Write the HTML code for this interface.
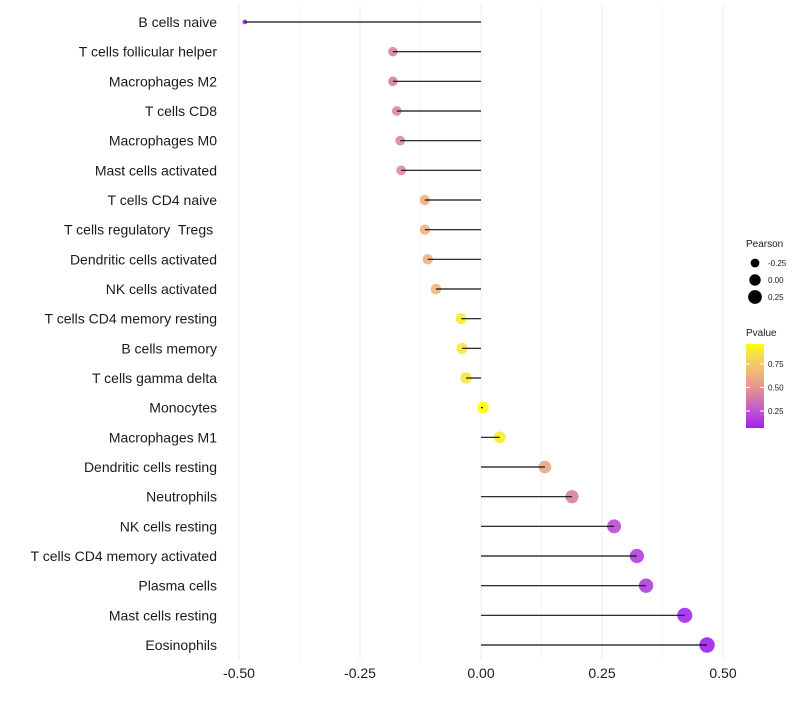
<!DOCTYPE html>
<html><head><meta charset="utf-8"><style>
body{margin:0;background:#fff;font-family:"Liberation Sans",sans-serif}
</style></head><body>
<svg id="c" width="800" height="700" xmlns="http://www.w3.org/2000/svg" font-family="Liberation Sans, sans-serif"></svg>
<script>
const categories=["B cells naive","T cells follicular helper","Macrophages M2","T cells CD8","Macrophages M0","Mast cells activated","T cells CD4 naive","T cells regulatory  Tregs ","Dendritic cells activated","NK cells activated","T cells CD4 memory resting","B cells memory","T cells gamma delta","Monocytes","Macrophages M1","Dendritic cells resting","Neutrophils","NK cells resting","T cells CD4 memory activated","Plasma cells","Mast cells resting","Eosinophils"];
const pearson=[-0.488,-0.182,-0.182,-0.174,-0.167,-0.165,-0.116,-0.116,-0.110,-0.093,-0.041,-0.039,-0.031,0.004,0.039,0.132,0.188,0.275,0.322,0.341,0.421,0.467];
const pvalue=[0.05,0.42,0.42,0.45,0.45,0.45,0.62,0.62,0.62,0.66,0.9,0.88,0.88,0.97,0.9,0.58,0.42,0.22,0.17,0.17,0.1,0.07];
const xTicks=[-0.5,-0.25,0,0.25,0.5];
const xTickLabels=["-0.50","-0.25","0.00","0.25","0.50"];
const legSizes=[-0.25,0,0.25];
const legSizeLabels=["-0.25","0.00","0.25"];
const legP=[0.75,0.5,0.25];
const legPLabels=["0.75","0.50","0.25"];

const svg=document.getElementById('c');const NS="http://www.w3.org/2000/svg";
function mk(t,a,p){const e=document.createElementNS(NS,t);for(const k in a)e.setAttribute(k,a[k]);(p||svg).appendChild(e);return e;}
const xS=v=>481+v*484;
const yS=i=>22+i*(623/21);
const rS=p=>Math.sqrt(Math.max(4,33+56*p));
const stops=[[0.07,[160,32,240]],[0.3,[200,98,200]],[0.45,[219,138,154]],[0.65,[242,181,122]],[0.85,[246,222,80]],[0.96,[255,255,0]]];
function col(p){if(p<=stops[0][0])return 'rgb('+stops[0][1]+')';for(let i=1;i<stops.length;i++){if(p<=stops[i][0]){const a=stops[i-1],b=stops[i],t=(p-a[0])/(b[0]-a[0]);return 'rgb('+a[1].map((c,j)=>Math.round(c+(b[1][j]-c)*t)).join(',')+')';}}return 'rgb(255,255,0)';}
for(let v=-0.5;v<=0.5001;v+=0.125){const g=mk('line',{x1:xS(v),x2:xS(v),y1:5,y2:660,stroke:'#eeeeee','stroke-width':Math.abs(v*4-Math.round(v*4))<1e-6?1:0.6});

}
xTicks.forEach((v,i)=>{const t=mk('text',{x:xS(v),y:678,'text-anchor':'middle','font-size':14,fill:'#1a1a1a'});t.textContent=xTickLabels[i];

});
categories.forEach((c,i)=>{const y=yS(i);
const t=mk('text',{x:217,y:y+5,'text-anchor':'end','font-size':14,fill:'#1a1a1a'});t.textContent=c;t.style.whiteSpace='pre';


const ci=mk('circle',{cx:xS(pearson[i]),cy:y,r:rS(pearson[i]),fill:col(pvalue[i]),'fill-opacity':0.9});


const l=mk('line',{x1:xS(0),x2:xS(pearson[i]),y1:y,y2:y,stroke:'#111','stroke-width':1.2});

});
let t=mk('text',{x:746,y:247,'font-size':10,fill:'#1a1a1a'});t.textContent='Pearson';


legSizes.forEach((v,i)=>{const y=263+i*17;const c=mk('circle',{cx:755,cy:y,r:rS(v),fill:'#000'});


const tt=mk('text',{x:768,y:y+3,'font-size':8,fill:'#1a1a1a'});tt.textContent=legSizeLabels[i];

});
t=mk('text',{x:746,y:336,'font-size':10,fill:'#1a1a1a'});t.textContent='Pvalue';


const defs=mk('defs',{});const lg=mk('linearGradient',{id:'g',x1:0,y1:1,x2:0,y2:0},defs);
stops.forEach(s=>mk('stop',{offset:(s[0]-0.07)/(0.96-0.07),'stop-color':'rgb('+s[1]+')'},lg));
const bar=mk('rect',{x:746,y:344,width:18,height:84,fill:'url(#g)'});


const pY=p=>428-(p-0.07)/(0.96-0.07)*84;
legP.forEach((p,i)=>{const y=pY(p);mk('line',{x1:746,x2:750,y1:y,y2:y,stroke:'#fff'});mk('line',{x1:760,x2:764,y1:y,y2:y,stroke:'#fff'});
const tt=mk('text',{x:768,y:y+3,'font-size':8,fill:'#1a1a1a'});tt.textContent=legPLabels[i];

});
</script>
</body></html>
